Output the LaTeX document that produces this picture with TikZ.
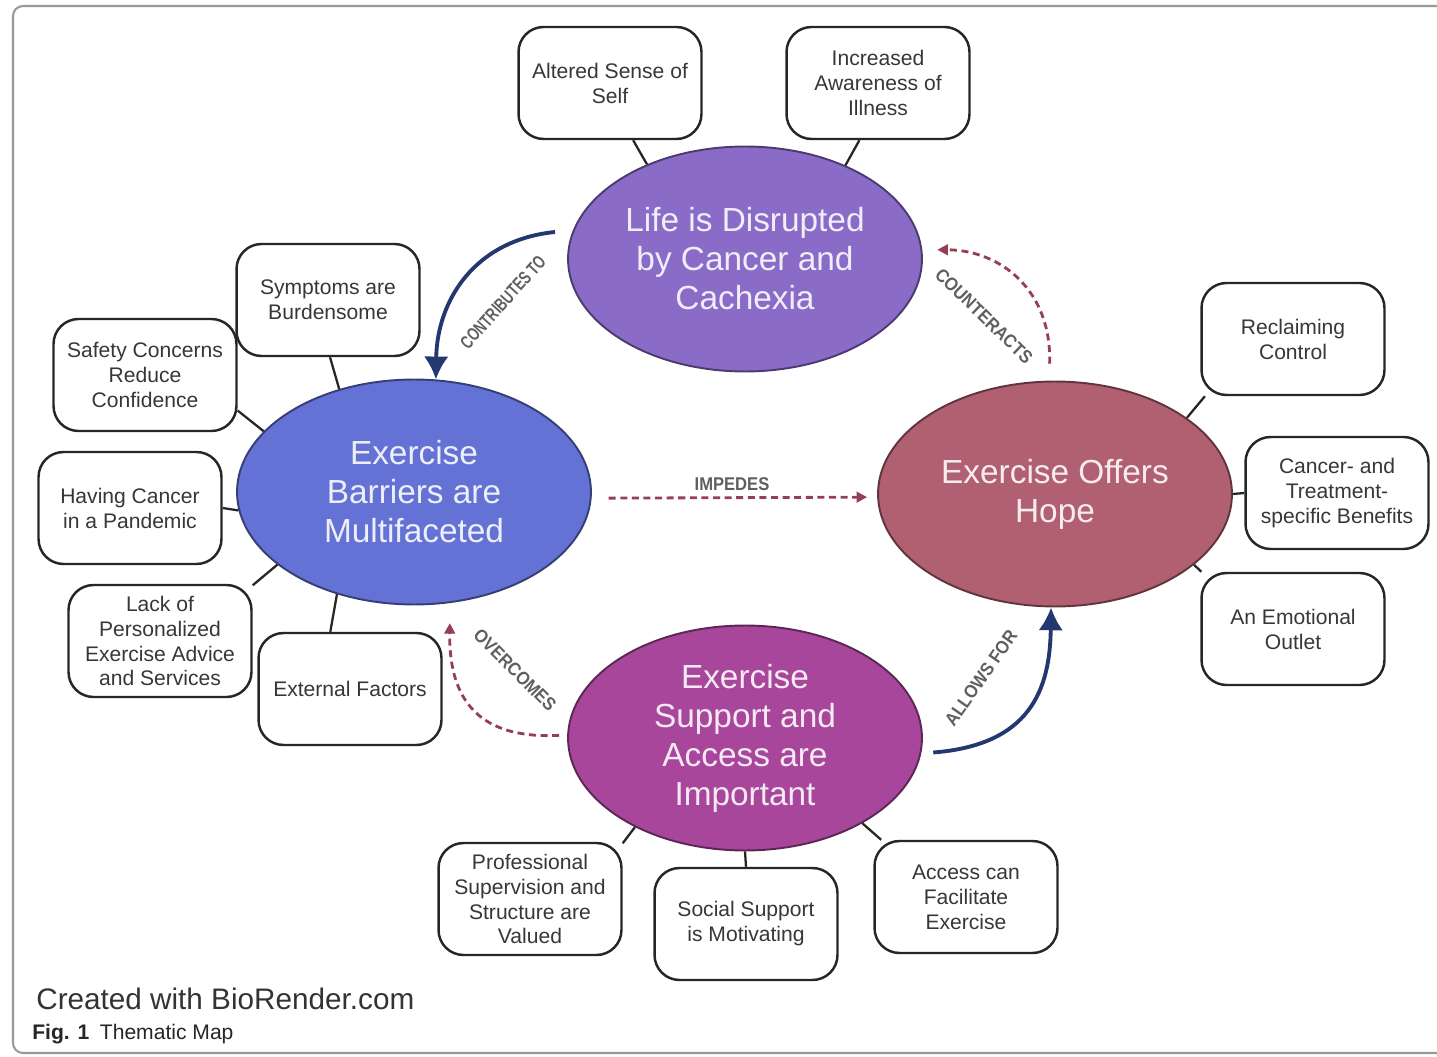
\documentclass[tikz,border=0pt]{standalone}
\usepackage{fontspec}
\setmainfont{Liberation Sans}
\usepackage{tikz}
\usetikzlibrary{shapes,arrows.meta,positioning,calc}

\definecolor{lifecol}{RGB}{138,108,200}
\definecolor{barrcol}{RGB}{99,114,212}
\definecolor{hopecol}{RGB}{176,96,112}
\definecolor{suppcol}{RGB}{168,70,155}
\definecolor{navy}{RGB}{36,56,112}
\definecolor{dotcol}{RGB}{150,62,84}
\definecolor{boxtxt}{RGB}{55,55,55}
\definecolor{lblcol}{RGB}{95,95,95}

\newcommand{\squeeze}[2][0.9]{\scalebox{#1}[1]{#2}}

\begin{document}
\begin{tikzpicture}[x=0.02cm, y=-0.02cm,
 theme/.style={ellipse, draw=#1!55!black, line width=1.1pt, fill=#1, minimum width=7.08cm, minimum height=4.5cm, inner sep=0pt, align=center, text=white!88!#1, font=\fontsize{19}{22.2}\selectfont},
 sub/.style={draw=black!85, line width=1.4pt, rounded corners=0.5cm, minimum width=3.66cm, minimum height=2.24cm, inner sep=2pt, align=center, text=boxtxt, font=\fontsize{12}{14.2}\selectfont},
 con/.style={draw=black!85, line width=1.3pt},
 lbl/.style={inner sep=0pt, text=lblcol, font=\bfseries\fontsize{10.5}{12}\selectfont},
 dotarr/.style={draw=dotcol, line width=1.6pt, dash pattern=on 4pt off 2.6pt, -{Triangle[length=6pt,width=6pt]}},
 solarr/.style={draw=navy, line width=2.2pt, -{Latex[length=13pt,width=14pt]}}]

\useasboundingbox (0,0) rectangle (1437,1057);
\draw[black!40, line width=1.2pt, rounded corners=0.2cm] (1437,6) -- (13,6) -- (13,1053) -- (1437,1053);

% main themes
\node[theme=lifecol] (life) at (745,259) {Life is Disrupted\\by Cancer and\\Cachexia};
\node[theme=barrcol] (barr) at (414,492) {Exercise\\Barriers are\\Multifaceted};
\node[theme=hopecol] (hope) at (1055,494) {Exercise Offers\\Hope};
\node[theme=suppcol] (supp) at (745,738) {Exercise\\Support and\\Access are\\Important};

% sub themes
\node[sub] (self) at (610,83) {Altered Sense of\\Self};
\node[sub] (aware) at (878,83) {Increased\\Awareness of\\Illness};
\node[sub] (sympt) at (328,300) {Symptoms are\\Burdensome};
\node[sub] (safety) at (145,375) {Safety Concerns\\Reduce\\Confidence};
\node[sub] (pandem) at (130,508) {Having Cancer\\in a Pandemic};
\node[sub] (advice) at (160,641) {Lack of\\Personalized\\Exercise Advice\\and Services};
\node[sub] (extern) at (350,689) {External Factors};
\node[sub] (control) at (1293,339) {Reclaiming\\Control};
\node[sub] (benefit) at (1337,493) {Cancer- and\\Treatment-\\specific Benefits};
\node[sub] (outlet) at (1293,629) {An Emotional\\Outlet};
\node[sub] (superv) at (530,899) {Professional\\Supervision and\\Structure are\\Valued};
\node[sub] (social) at (746,924) {Social Support\\is Motivating};
\node[sub] (access) at (966,897) {Access can\\Facilitate\\Exercise};

\draw[con] (self.-68) -- (life.136);
\draw[con] (aware.-108) -- (life.43);
\draw[con] (sympt.-88) -- (barr.126);
\draw[con] (safety.-21) -- (barr.158);
\draw[con] (pandem.east) -- (barr.186);
\draw[con] (advice.31) -- (barr.208);
\draw[con] (extern.109) -- (barr.233);
\draw[con] (control.213) -- (hope.30);
\draw[con] (benefit.west) -- (hope.east);
\draw[con] (outlet.148) -- (hope.-27);
\draw[con] (superv.31) -- (supp.219);
\draw[con] (social.north) -- (supp.south);
\draw[con] (access.146) -- (supp.-36);

% links between themes
\coordinate (ctstart) at (555,232);
\draw[solarr] (ctstart) .. controls (475,240) and (437,300) .. (barr.79);
\draw[dotarr, shorten <=0.34cm, shorten >=0.3cm] (hope.93) .. controls (1052,290) and (1000,250) .. (life.3);
\draw[dotarr, shorten <=0.34cm, shorten >=0.2cm] (barr.-2) -- (hope.181);
\draw[dotarr, shorten <=0.16cm, shorten >=0.4cm] (supp.179) .. controls (470,740) and (449,690) .. (barr.-72);
\draw[solarr, shorten <=0.24cm] (supp.-5) .. controls (1030,745) and (1050,690) .. (hope.-92);

\node[lbl, rotate=48] (contr) at (503,302) {\squeeze[0.72]{CONTRIBUTES TO}};
\node[lbl, rotate=-44] (count) at (984,316) {\squeeze{COUNTERACTS}};
\node[lbl] (imped) at (732,484) {\squeeze{IMPEDES}};
\node[lbl, rotate=-45] (overc) at (515,670) {\squeeze{OVERCOMES}};
\node[lbl, rotate=55] (allow) at (981,678) {\squeeze{ALLOWS FOR}};

% caption
\node[anchor=west, inner sep=0pt, text=black!80, font=\fontsize{16.9}{20}\selectfont] (made) at (36,999) {Created with BioRender.com};
\node[anchor=west, inner sep=0pt, text=black!85, font=\fontsize{12}{14}\selectfont] (fig) at (32,1034) {\textbf{Fig. 1}\enspace Thematic Map};
\end{tikzpicture}
\end{document}
